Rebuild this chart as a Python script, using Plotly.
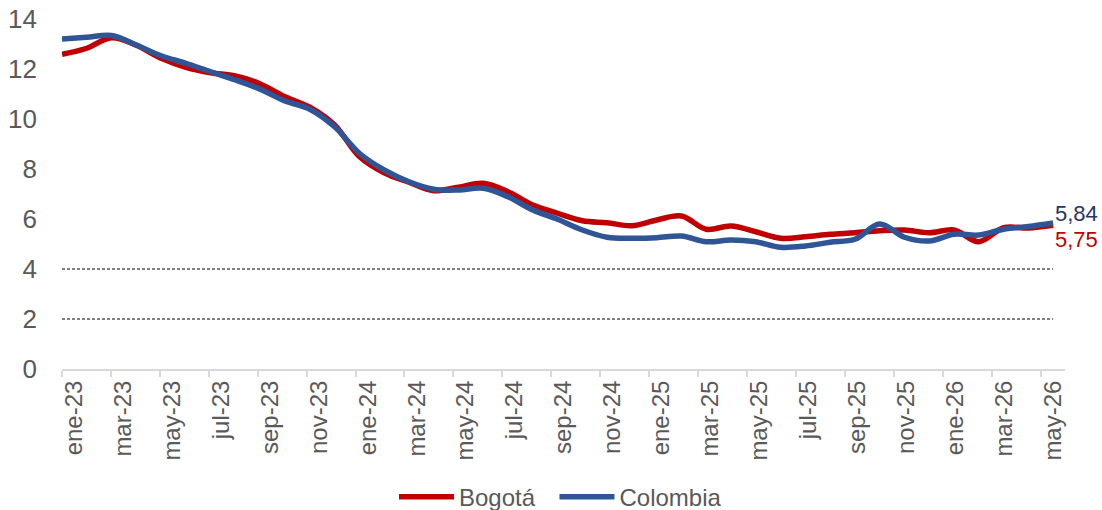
import plotly.graph_objects as go

meses = ["ene", "feb", "mar", "abr", "may", "jun", "jul", "ago", "sep", "oct", "nov", "dic"]
categorias = [f"{meses[(k) % 12]}-{23 + k // 12}" for k in range(41)]

bogota = [12.59, 12.83, 13.25, 12.95, 12.43, 12.07, 11.85, 11.72, 11.40, 10.89,
          10.47, 9.76, 8.50, 7.85, 7.47, 7.13, 7.27, 7.43, 7.09, 6.56,
          6.23, 5.93, 5.85, 5.73, 5.96, 6.12, 5.59, 5.72, 5.49, 5.23,
          5.29, 5.39, 5.45, 5.53, 5.56, 5.45, 5.56, 5.09, 5.65, 5.64,
          5.75]
colombia = [13.20, 13.27, 13.34, 12.96, 12.53, 12.23, 11.89, 11.56, 11.19, 10.72,
            10.39, 9.69, 8.63, 7.96, 7.49, 7.19, 7.16, 7.23, 6.89, 6.36,
            5.99, 5.56, 5.27, 5.23, 5.25, 5.32, 5.09, 5.16, 5.09, 4.87,
            4.92, 5.07, 5.19, 5.80, 5.27, 5.12, 5.39, 5.36, 5.59, 5.70,
            5.84]
limite_inferior = [2] * len(categorias)
limite_superior = [4] * len(categorias)

y_ticks = [0, 2, 4, 6, 8, 10, 12, 14]

idx = list(range(len(categorias)))
label_idx = idx[::2]
label_txt = categorias[::2]

ROJO = "#C00000"
AZUL = "#2F5597"
GRIS = "#595959"
FONT = "Liberation Sans, Arial, sans-serif"

fig = go.Figure()
for lim in (limite_inferior, limite_superior):
    fig.add_trace(go.Scatter(x=idx, y=lim, mode="lines", showlegend=False,
                             hoverinfo="skip",
                             line=dict(color="#000000", width=1, dash="3px,2px")))
fig.add_trace(go.Scatter(x=idx, y=bogota, mode="lines", name="Bogotá", legend="legend",
                         line=dict(color=ROJO, width=5.5, shape="spline")))
fig.add_trace(go.Scatter(x=idx, y=colombia, mode="lines", name="Colombia", legend="legend2",
                         line=dict(color=AZUL, width=5.5, shape="spline")))

def fmt(v):
    return f"{v:.2f}".replace(".", ",")

fig.add_annotation(x=idx[-1], y=colombia[-1], xref="x", yref="y", text=fmt(colombia[-1]),
                   showarrow=False, xanchor="left", yanchor="middle", xshift=0, yshift=10,
                   font=dict(family=FONT, size=22, color="#1F3864"))
fig.add_annotation(x=idx[-1], y=bogota[-1], xref="x", yref="y", text=fmt(bogota[-1]),
                   showarrow=False, xanchor="left", yanchor="middle", xshift=0, yshift=-14,
                   font=dict(family=FONT, size=22, color=ROJO))

legend_style = dict(orientation="h", y=-0.366, yanchor="middle", xanchor="left",
                    font=dict(family=FONT, size=24, color=GRIS), itemwidth=55,
                    bgcolor="rgba(0,0,0,0)")

fig.update_layout(
    width=1102, height=510,
    margin=dict(l=62, r=37, t=19, b=141, autoexpand=False),
    paper_bgcolor="white", plot_bgcolor="white",
    font=dict(family=FONT, color=GRIS),
    xaxis=dict(range=[0, 40.48], showticklabels=False, ticks="", showgrid=False,
               zeroline=False, showline=False, automargin=False),
    xaxis2=dict(overlaying="x", anchor="y", side="bottom", automargin=False,
                range=[-0.5, 40.5], tickmode="array", tickvals=label_idx, ticktext=label_txt,
                tickangle=-90, ticks="", showgrid=False, zeroline=False,
                showline=True, linecolor="#D9D9D9", linewidth=2,
                ticklabeloverflow="allow",
                tickfont=dict(family=FONT, size=24, color=GRIS),
                minor=dict(tickmode="linear", tick0=-0.5, dtick=2, ticks="outside",
                           ticklen=6, tickcolor="#D9D9D9", tickwidth=1.5, showgrid=False)),
    yaxis=dict(range=[0, 14], tickmode="array", tickvals=y_ticks, showgrid=False,
               zeroline=False, showline=False, ticks="", ticklabelstandoff=24,
               automargin=False, ticklabeloverflow="allow",
               tickfont=dict(family=FONT, size=26, color=GRIS)),
    legend=dict(x=0.331, **legend_style),
    legend2=dict(x=0.491, **legend_style),
)
fig.add_trace(go.Scatter(x=[0], y=[None], xaxis="x2", showlegend=False, hoverinfo="skip"))

fig.write_html("out.html", config={"displayModeBar": False},
               post_script="document.body.style.margin='0';document.body.style.overflow='hidden';")
